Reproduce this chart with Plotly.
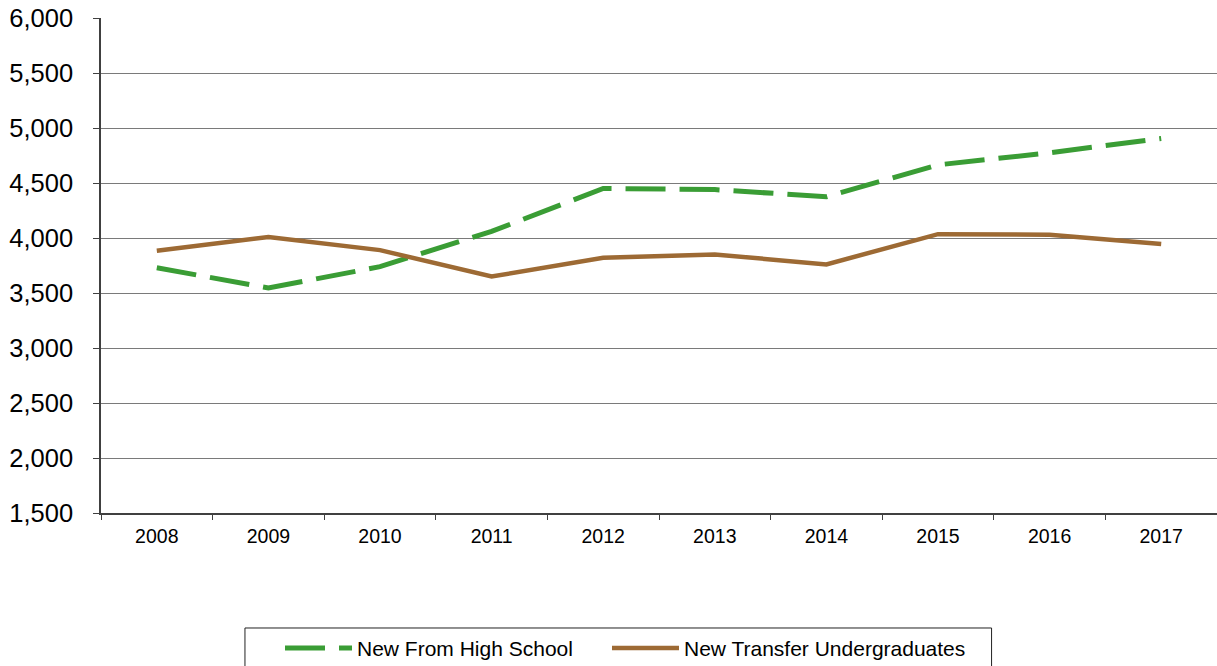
import plotly.graph_objects as go

years = ["2008", "2009", "2010", "2011", "2012", "2013", "2014", "2015", "2016", "2017"]
new_from_high_school = [3730, 3545, 3740, 4060, 4450, 4440, 4375, 4665, 4775, 4905]
new_transfer_undergrads = [3885, 4010, 3890, 3650, 3820, 3850, 3760, 4035, 4030, 3945]
y_ticks = [1500, 2000, 2500, 3000, 3500, 4000, 4500, 5000, 5500, 6000]

GREEN = "#3A9D35"
BROWN = "#9D6A34"
FONT = "Liberation Sans, Arial, sans-serif"

fig = go.Figure()
fig.add_trace(go.Scatter(
    x=years, y=new_from_high_school, mode="lines", name="New From High School",
    line=dict(color=GREEN, width=5, dash="40px,14px"), legend="legend",
))
fig.add_trace(go.Scatter(
    x=years, y=new_transfer_undergrads, mode="lines", name="New Transfer Undergraduates",
    line=dict(color=BROWN, width=4.5), legend="legend2",
))

# legend frame drawn as a separate box around both legend entries
fig.add_shape(
    type="rect", xref="paper", yref="paper",
    x0=0.129, x1=0.798, y0=-0.2323, y1=-0.40,
    line=dict(color="#222222", width=1), fillcolor="rgba(0,0,0,0)", layer="above",
)

legend_common = dict(
    orientation="h", yanchor="top", y=-0.232, xanchor="left",
    borderwidth=0, bgcolor="rgba(0,0,0,0)",
    font=dict(size=21, family=FONT), itemwidth=67,
)

fig.update_layout(
    width=1217, height=666,
    margin=dict(l=101, r=0, t=18, b=153, autoexpand=False),
    paper_bgcolor="white", plot_bgcolor="white",
    font=dict(family=FONT, color="#000000"),
    showlegend=True,
    legend=dict(legend_common, x=0.1604),
    legend2=dict(legend_common, x=0.4534),
    xaxis=dict(
        type="category", tickson="boundaries", range=[-0.5, 9.5], automargin=False,
        showline=True, linecolor="#404040", linewidth=1.5,
        ticks="outside", ticklen=5, tickcolor="#404040",
        showgrid=False, tickfont=dict(size=19.5),
        ticklabelstandoff=5,
    ),
    yaxis=dict(
        range=[1500, 6000], tickvals=y_ticks, tickformat=",", automargin=False,
        showline=True, linecolor="#404040", linewidth=1.5,
        ticks="outside", ticklen=6, tickcolor="#404040",
        showgrid=True, gridcolor="#7a7a7a", gridwidth=1,
        zeroline=False, tickfont=dict(size=25.5),
        ticklabelstandoff=15,
    ),
)

fig.write_html("out.html")
